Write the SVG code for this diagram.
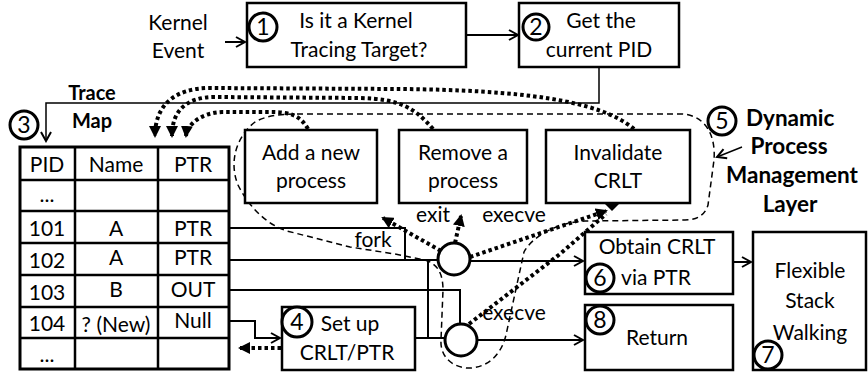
<svg xmlns="http://www.w3.org/2000/svg" width="868" height="379" viewBox="0 0 868 379">
<style>
text{font-family:Lato,"Liberation Sans",sans-serif;font-size:21px;fill:#000;text-anchor:middle}
.b{font-weight:bold;font-size:20px}
.bl{font-weight:bold;font-size:22.5px}
.num{font-size:23px}
.st{text-anchor:start}
.box{fill:#fff;stroke:#000;stroke-width:2.5}
.cir{fill:#fff;stroke:#000;stroke-width:3}
.ln{fill:none;stroke:#000;stroke-width:2}
.thin{fill:none;stroke:#000;stroke-width:1.5}
.dot{fill:none;stroke:#000;stroke-width:4;stroke-dasharray:3.5 3}
.dash{fill:none;stroke:#000;stroke-width:1.5;stroke-dasharray:6 4}
.tbl{fill:none;stroke:#000;stroke-width:2.5}
</style>
<defs>
<marker id="oa" markerWidth="12" markerHeight="12" refX="10" refY="6" orient="auto" markerUnits="userSpaceOnUse">
<path d="M1,1 L10,6 L1,11" fill="none" stroke="#000" stroke-width="2"/>
</marker>
<marker id="ta" markerWidth="12" markerHeight="12" refX="10" refY="6" orient="auto" markerUnits="userSpaceOnUse">
<path d="M0,0 L12,6 L0,12 z" fill="#000"/>
</marker>
</defs>

<g id="connectors">
<path class="dash" d="M297 114 L680 114 C705 114 716 135 714 160 L708 205 C705 215 697 220 685 220 L585 221 C560 222 533 235 524 252 L506 335 C500 360 482 369 466 368 C450 366 440 355 441 340 L443 290 C443 274 438 264 425 260 L395 254 L350 247 L287 231 C265 224 248 205 238 185 C228 160 238 135 255 122 C265 116 280 114 297 114 Z"/>
<path class="ln" d="M225 42 H245" marker-end="url(#oa)"/>
<path class="ln" d="M466 35 H518" marker-end="url(#oa)"/>
<path class="thin" d="M599 67 V103 H46 V141" marker-end="url(#oa)"/>
<path class="dot" d="M634 129 C600 100 520 90 400 89 L210 88 C175 88 155 105 155 136" marker-end="url(#ta)"/>
<path class="dot" d="M433 129 C415 108 400 99 360 98 L215 97 C187 97 172 110 172 136" marker-end="url(#ta)"/>
<path class="dot" d="M308 129 C300 115 290 112 270 112 L222 112 C200 113 187 125 186 136" marker-end="url(#ta)"/>
<path class="ln" d="M229 228 H405 V260"/>
<path class="ln" d="M229 260 H438"/>
<path class="ln" d="M470 261 H583" marker-end="url(#oa)"/>
<path class="ln" d="M428 260 V338"/>
<path class="ln" d="M229 290 H460 V325"/>
<path class="ln" d="M229 321 H255 V338 H280" marker-end="url(#oa)"/>
<path class="ln" d="M415 338 H445"/>
<path class="ln" d="M477 340 H583" marker-end="url(#oa)"/>
<path class="ln" d="M733 262 H751" marker-end="url(#oa)"/>
<path class="thin" d="M742 147 L717 157" marker-end="url(#oa)"/>
<path class="dot" d="M281 348 H240" marker-end="url(#ta)"/>
<path class="dot" d="M441 251 L383 218" marker-end="url(#ta)"/>
<path class="dot" d="M455 243 L461 216" marker-end="url(#ta)"/>
<path class="dot" d="M470 257 L606 211" marker-end="url(#ta)"/>
<path class="dot" d="M469 324 L560 254 L606 214"/>
</g>

<g id="kernel-event">
<text x="178" y="30">Kernel</text>
<text x="178" y="58">Event</text>
</g>

<g id="n1">
<rect class="box" x="247" y="3" width="219" height="64"/>
<circle class="cir" cx="263" cy="27" r="14"/>
<text class="num" x="263" y="35">1</text>
<text x="356" y="28">Is it a Kernel</text>
<text x="359" y="57">Tracing Target?</text>
</g>

<g id="n2">
<rect class="box" x="519" y="3" width="160" height="64"/>
<circle class="cir" cx="536" cy="27" r="13"/>
<text class="num" x="536" y="35">2</text>
<text x="601" y="28">Get the</text>
<text x="599" y="57">current PID</text>
</g>

<g id="n3">
<circle class="cir" cx="24" cy="125" r="14"/>
<text class="num" x="24" y="133">3</text>
<text class="b" x="92" y="100">Trace</text>
<text class="b" x="92" y="128">Map</text>
<rect x="20" y="147" width="209" height="222" fill="#fff" stroke="#000" stroke-width="3"/>
<path class="tbl" d="M75 147 V369 M158 147 V369 M20 180 H229 M20 211 H229 M20 243 H229 M20 275 H229 M20 307 H229 M20 338 H229"/>
<text x="47" y="172">PID</text><text x="116" y="172">Name</text><text x="193" y="172">PTR</text>
<text x="47" y="202">...</text>
<text x="47" y="236">101</text><text x="116" y="236">A</text><text x="193" y="236">PTR</text>
<text x="47" y="268">102</text><text x="116" y="265">A</text><text x="193" y="265">PTR</text>
<text x="47" y="300">103</text><text x="116" y="297">B</text><text x="193" y="297">OUT</text>
<text x="47" y="331">104</text><text x="116" y="332">? (New)</text><text x="193" y="328">Null</text>
<text x="47" y="362">...</text>
</g>

<g id="add">
<rect class="box" x="245" y="130" width="132" height="73"/>
<text x="311" y="160">Add a new</text>
<text x="311" y="188">process</text>
</g>

<g id="remove">
<rect class="box" x="399" y="130" width="128" height="73"/>
<text x="463" y="160">Remove a</text>
<text x="463" y="188">process</text>
</g>

<g id="invalidate">
<rect class="box" x="546" y="130" width="144" height="73"/>
<text x="618" y="160">Invalidate</text>
<text x="618" y="188">CRLT</text>
<path d="M604 203 H620 L612 211 Z" fill="#000"/>
</g>

<g id="labels">
<text x="373" y="247">fork</text>
<text x="433" y="222">exit</text>
<text x="514" y="222">execve</text>
<text x="514" y="320">execve</text>
</g>

<g id="sw-upper">
<circle class="cir" cx="454" cy="259" r="16"/>
</g>
<g id="sw-lower">
<circle class="cir" cx="461" cy="340" r="16"/>
</g>

<g id="n4">
<rect class="box" x="282" y="307" width="133" height="63"/>
<circle class="cir" cx="297" cy="322" r="15"/>
<text class="num" x="297" y="330">4</text>
<text x="350" y="331">Set up</text>
<text x="347" y="360">CRLT/PTR</text>
</g>

<g id="n5">
<circle class="cir" cx="722" cy="121" r="14"/>
<text class="num" x="722" y="129">5</text>
<text class="bl st" x="746" y="126">Dynamic</text>
<text class="bl" x="789" y="154">Process</text>
<text class="bl" x="792" y="183">Management</text>
<text class="bl" x="790" y="212">Layer</text>
</g>

<g id="n6">
<rect class="box" x="585" y="232" width="148" height="62"/>
<text x="657" y="254">Obtain CRLT</text>
<circle class="cir" cx="600" cy="278" r="14"/>
<text class="num" x="600" y="286">6</text>
<text x="656" y="285">via PTR</text>
</g>

<g id="n7">
<rect class="box" x="753" y="232" width="113" height="138"/>
<text x="810" y="278">Flexible</text>
<text x="810" y="308">Stack</text>
<text x="810" y="340">Walking</text>
<circle class="cir" cx="768" cy="355" r="14"/>
<text class="num" x="768" y="363">7</text>
</g>

<g id="n8">
<rect class="box" x="585" y="305" width="148" height="65"/>
<circle class="cir" cx="600" cy="320" r="14"/>
<text class="num" x="600" y="328">8</text>
<text x="657" y="345">Return</text>
</g>
</svg>
